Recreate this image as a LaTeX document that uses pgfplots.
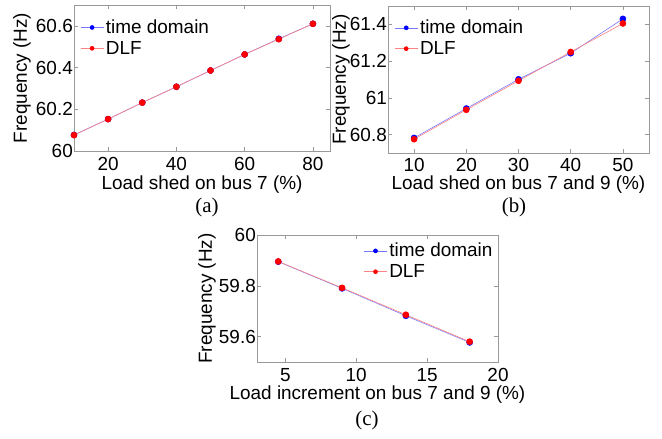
\documentclass[border=0pt]{standalone}
\usepackage{pgfplots}
\pgfplotsset{compat=1.18}
\usepackage{fontspec}
\setmainfont{Liberation Sans}
\newfontfamily\capfont{Liberation Serif}
\definecolor{tdline}{RGB}{120,120,255}
\definecolor{dlfline}{RGB}{255,130,130}
\pgfplotsset{
  myax/.style={
    scale only axis,
    axis line style={draw=black!40},
    tick style={draw=black!40, line width=0.6bp},
    major tick length=4bp,
    tick align=inside,
    /pgf/number format/assume math mode=true,
    font=\fontsize{19}{21}\selectfont,
    ticklabel style={font=\fontsize{19}{21}\selectfont},
    yticklabel style={inner sep=1bp},
    label style={font=\fontsize{19}{21}\selectfont},
    xlabel style={inner sep=0pt, anchor=base},
    legend style={draw=none, fill=none, font=\fontsize{19}{21}\selectfont, row sep=2bp, inner sep=1bp},
    legend cell align=left,
    legend image code/.code={\draw[mark repeat=2,mark phase=2,#1,mark size=2bp] plot coordinates {(0bp,0bp) (11.5bp,0bp) (23bp,0bp)};},
    every axis plot/.append style={line width=0.6bp},
  },
  td/.style={color=tdline, mark=*, mark size=3bp, mark options={fill=blue, draw=blue}},
  dlf/.style={color=dlfline, mark=*, mark size=3bp, mark options={fill=red, draw=red}},
}
\begin{document}
\begin{tikzpicture}
\path[use as bounding box] (0,0) rectangle (662bp,439bp);
% (a)
\begin{axis}[myax, at={(74bp,288bp)}, anchor=south west, width=256bp, height=146bp,
  xmin=10, xmax=85, ymin=60, ymax=60.7,
  xtick={20,40,60,80}, ytick={60,60.2,60.4,60.6}, yticklabels={60,60.2,60.4,60.6},
  xticklabel style={inner sep=0pt, yshift=-6bp},
  xlabel={Load shed on bus 7 (\%)}, ylabel={Frequency (Hz)},
  ylabel style={at={(axis description cs:-0.203,0.5)}, anchor=center},
  xlabel style={at={(axis description cs:0.5,-0.262)}},
  legend style={at={(axis description cs:0.02,0.92)}, anchor=north west}]
\addplot[td] coordinates {(10,60.077) (20,60.153) (30,60.232) (40,60.308) (50,60.386) (60,60.463) (70,60.538) (80,60.610)};
\addlegendentry{time domain}
\addplot[dlf] coordinates {(10,60.076) (20,60.153) (30,60.232) (40,60.308) (50,60.386) (60,60.463) (70,60.536) (80,60.610)};
\addlegendentry{DLF}
\end{axis}
% (b)
\begin{axis}[myax, at={(388bp,286bp)}, anchor=south west, width=261bp, height=147bp,
  xmin=5, xmax=55, ymin=60.7, ymax=61.5,
  xtick={10,20,30,40,50}, ytick={60.8,61,61.2,61.4}, yticklabels={60.8,61,61.2,61.4},
  xticklabel style={inner sep=0pt, yshift=-5bp},
  xlabel={Load shed on bus 7 and 9 (\%)}, ylabel={Frequency (Hz)},
  ylabel style={at={(axis description cs:-0.18,0.5)}, anchor=center},
  xlabel style={at={(axis description cs:0.5,-0.25)}},
  legend style={at={(axis description cs:0.02,0.925)}, anchor=north west}]
\addplot[td] coordinates {(10,60.782) (20,60.942) (30,61.101) (40,61.243) (50,61.430)};
\addlegendentry{time domain}
\addplot[dlf] coordinates {(10,60.775) (20,60.935) (30,61.093) (40,61.250) (50,61.405)};
\addlegendentry{DLF}
\end{axis}
% (c)
\begin{axis}[myax, at={(257bp,77bp)}, anchor=south west, width=241bp, height=127bp,
  xmin=3, xmax=20, ymin=59.5, ymax=60,
  xtick={5,10,15,20}, ytick={59.6,59.8,60}, yticklabels={59.6,59.8,60},
  xticklabel style={inner sep=0pt, yshift=-6bp},
  xlabel={Load increment on bus 7 and 9 (\%)}, ylabel={Frequency (Hz)},
  ylabel style={at={(axis description cs:-0.208,0.5)}, anchor=center},
  xlabel style={at={(axis description cs:0.5,-0.292)}},
  legend style={at={(axis description cs:0.99,0.96)}, anchor=north east}]
\addplot[td] coordinates {(4.5,59.895) (9,59.790) (13.5,59.682) (18,59.577)};
\addlegendentry{time domain}
\addplot[dlf] coordinates {(4.5,59.896) (9,59.792) (13.5,59.686) (18,59.580)};
\addlegendentry{DLF}
\end{axis}
\node[font=\capfont\fontsize{21}{23}\selectfont] at (207bp,232bp) {(a)};
\node[font=\capfont\fontsize{21}{23}\selectfont] at (514bp,232bp) {(b)};
\node[font=\capfont\fontsize{21}{23}\selectfont] at (367bp,19bp) {(c)};
\end{tikzpicture}
\end{document}
